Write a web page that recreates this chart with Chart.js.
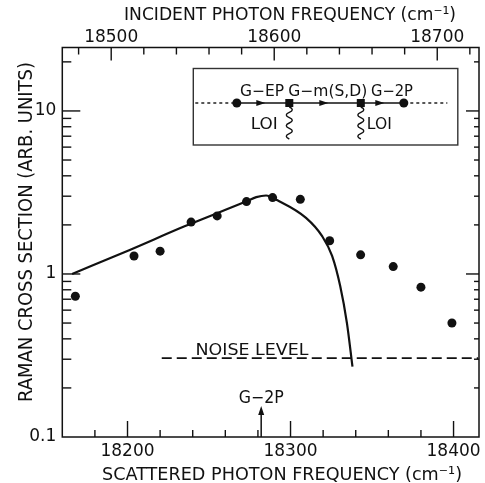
<!DOCTYPE html>
<html lang="en">
<head>
<meta charset="UTF-8">
<title>Raman Cross Section</title>
<script src="https://cdn.jsdelivr.net/npm/chart.js"></script>
<style>
  body { margin: 0; background: #fff; }
  .chart-box { position: relative; width: 485px; height: 483px; }
</style>
</head>
<body>
<div class="chart-box"><canvas id="ramanChart"></canvas></div>
<script>
// measured points: scattered frequency (cm-1) / cross section (arb. units)
const scatteredFreq = [18168, 18204, 18220, 18239, 18255, 18273, 18289, 18306, 18324, 18343, 18363, 18380, 18399];
const crossSection = [0.73, 1.29, 1.38, 2.08, 2.27, 2.78, 2.94, 2.87, 1.60, 1.31, 1.11, 0.83, 0.50];

// calculated curve
const theoryFreq = [18166, 18201, 18235, 18273, 18279, 18285, 18292, 18309.5, 18319.5, 18325.5, 18330.5, 18334.6, 18338];
const theoryValue = [1.00, 1.40, 1.96, 2.79, 2.96, 3.03, 2.83, 2.21, 1.70, 1.29, 0.84, 0.50, 0.27];

// noise floor
const noiseFreq = [18221, 18415];
const noiseValue = [0.305, 0.305];

const g2pFreq = 18282;
const loShift = 310;              // incident = scattered + LO
const xRange = [18160, 18415];
const yRange = [0.1, 24.5];

const yTicks = [0.1, 0.2, 0.3, 0.4, 0.5, 0.6, 0.7, 0.8, 0.9, 1, 2, 3, 4, 5, 6, 7, 8, 9, 10, 20];
const yLabels = [0.1, 1, 10];
const xTicks = [18180, 18200, 18220, 18240, 18260, 18280, 18300, 18320, 18340, 18360, 18380, 18400];
const xLabels = [18200, 18300, 18400];
const topTicks = [18480, 18500, 18520, 18540, 18560, 18580, 18600, 18620, 18640, 18660, 18680, 18700, 18720];
const topLabels = [18500, 18600, 18700];

const INK = '#111';
const FONT = '"DejaVu Sans", sans-serif';

function toPoints(xs, ys) {
    return xs.map((x, i) => ({ x: x, y: ys[i] }));
}

// text stretched/squeezed to a given width, centred on (cx, cy)
function fitText(ctx, text, cx, cy, width, size, angle) {
    ctx.save();
    ctx.translate(cx, cy);
    if (angle) ctx.rotate(angle);
    ctx.font = size + 'px ' + FONT;
    const w = ctx.measureText(text).width;
    ctx.scale(width / w, 1);
    ctx.textAlign = 'center';
    ctx.textBaseline = 'alphabetic';
    ctx.fillStyle = INK;
    ctx.fillText(text, 0, size * 0.365);
    ctx.restore();
}

function line(ctx, x1, y1, x2, y2) {
    ctx.beginPath();
    ctx.moveTo(x1, y1);
    ctx.lineTo(x2, y2);
    ctx.stroke();
}

function spring(ctx, x, y0, y1) {
    const n = 6, step = (y1 - y0) / n;
    ctx.beginPath();
    ctx.moveTo(x, y0);
    for (let i = 0; i < n; i++) {
        const ya = y0 + i * step;
        ctx.quadraticCurveTo(x + (i % 2 ? -6 : 6), ya + step / 2, x, ya + step);
    }
    ctx.stroke();
}

function arrowHead(ctx, x, y) {
    ctx.beginPath();
    ctx.moveTo(x + 5, y);
    ctx.lineTo(x - 4, y - 3);
    ctx.lineTo(x - 4, y + 3);
    ctx.closePath();
    ctx.fill();
}

const frameAndNotes = {
    id: 'frameAndNotes',
    afterDraw(chart) {
        const ctx = chart.ctx;
        const { left, right, top, bottom } = chart.chartArea;
        const xs = chart.scales.x, ys = chart.scales.y, xt = chart.scales.x2;
        ctx.save();
        ctx.strokeStyle = INK;
        ctx.fillStyle = INK;

        // frame
        ctx.lineWidth = 1.5;
        ctx.strokeRect(left, top, right - left + 1, bottom - top);

        // inward tick marks
        ctx.lineWidth = 1.4;
        yTicks.forEach(v => {
            if (v === yRange[0]) return;
            const y = ys.getPixelForValue(v);
            const major = yLabels.includes(v);
            line(ctx, left, y, left + (major ? 18 : 9), y);
            line(ctx, right + 1, y, right + 1 - (major ? 13 : 5), y);
        });
        xTicks.forEach(v => {
            const x = xs.getPixelForValue(v);
            line(ctx, x, bottom, x, bottom - (xLabels.includes(v) ? 16 : 7));
        });
        topTicks.forEach(v => {
            const x = xt.getPixelForValue(v);
            line(ctx, x, top, x, top + (topLabels.includes(v) ? 13 : 7));
        });

        // axis titles
        fitText(ctx, 'INCIDENT PHOTON FREQUENCY (cm\u207B\u00B9)', 290, 13.5, 332, 18);
        fitText(ctx, 'SCATTERED PHOTON FREQUENCY (cm\u207B\u00B9)', 282, 473.7, 360, 18);
        fitText(ctx, 'RAMAN CROSS SECTION (ARB. UNITS)', 25.5, 232, 340, 19, -Math.PI / 2);

        // noise label
        fitText(ctx, 'NOISE LEVEL', 252, 349, 113, 16.5);

        // G-2P marker
        const gx = xs.getPixelForValue(g2pFreq);
        ctx.lineWidth = 1.5;
        line(ctx, gx, bottom, gx, bottom - 24);
        ctx.beginPath();
        ctx.moveTo(gx, bottom - 31);
        ctx.lineTo(gx - 3, bottom - 22);
        ctx.lineTo(gx + 3, bottom - 22);
        ctx.closePath();
        ctx.fill();
        fitText(ctx, 'G\u22122P', gx, 397, 45, 17);

        // inset diagram
        const bx = left + 131, by = top + 21;
        ctx.lineWidth = 1.4;
        ctx.strokeStyle = '#333';
        ctx.strokeRect(bx, by, 264.5, 76.5);
        ctx.strokeStyle = INK;
        const ly = by + 34.5;
        ctx.lineWidth = 1.4;
        ctx.setLineDash([3, 3]);
        line(ctx, bx + 2, ly, bx + 43, ly);
        line(ctx, bx + 211, ly, bx + 254, ly);
        ctx.setLineDash([]);
        line(ctx, bx + 43, ly, bx + 211, ly);
        [bx + 43.5, bx + 210.5].forEach(cx => {
            ctx.beginPath();
            ctx.arc(cx, ly, 4.5, 0, Math.PI * 2);
            ctx.fill();
        });
        [bx + 96, bx + 167.5].forEach(cx => {
            ctx.fillRect(cx - 4, ly - 4, 8, 8);
            spring(ctx, cx, ly + 4, ly + 36);
        });
        [bx + 67, bx + 130, bx + 186].forEach(ax => arrowHead(ctx, ax, ly));
        fitText(ctx, 'G\u2212EP', bx + 68.7, by + 21.7, 44, 15);
        fitText(ctx, 'G\u2212m(S,D)', bx + 134.5, by + 21.7, 79, 15);
        fitText(ctx, 'G\u22122P', bx + 198.7, by + 21.7, 42, 15);
        fitText(ctx, 'LOI', bx + 71, by + 54.7, 27, 15);
        fitText(ctx, 'LOI', bx + 186, by + 54.7, 25, 15);

        ctx.restore();
    }
};

const tickFont = { family: FONT, size: 17 };

new Chart(document.getElementById('ramanChart'), {
    type: 'line',
    data: {
        datasets: [
            {
                type: 'scatter',
                data: toPoints(scatteredFreq, crossSection),
                backgroundColor: INK,
                borderWidth: 0,
                pointRadius: 4.5
            },
            {
                data: toPoints(theoryFreq, theoryValue),
                borderColor: INK,
                borderWidth: 2.2,
                pointRadius: 0,
                cubicInterpolationMode: 'monotone',
                fill: false
            },
            {
                data: toPoints(noiseFreq, noiseValue),
                borderColor: INK,
                borderWidth: 1.8,
                borderDash: [10, 5],
                pointRadius: 0,
                fill: false
            }
        ]
    },
    options: {
        responsive: true,
        maintainAspectRatio: false,
        animation: false,
        layout: { padding: { left: 0, right: 0, top: 0, bottom: 0 } },
        plugins: { legend: { display: false }, tooltip: { enabled: false } },
        scales: {
            x: {
                type: 'linear',
                position: 'bottom',
                min: xRange[0],
                max: xRange[1],
                grid: { display: false, drawTicks: false },
                border: { display: false },
                afterBuildTicks: s => { s.ticks = xTicks.map(v => ({ value: v })); },
                afterFit: s => { s.height = 46; },
                ticks: {
                    autoSkip: false,
                    maxRotation: 0,
                    padding: 4,
                    color: INK,
                    font: tickFont,
                    callback: v => xLabels.includes(v) ? String(v) : ''
                }
            },
            x2: {
                type: 'linear',
                position: 'top',
                min: xRange[0] + loShift,
                max: xRange[1] + loShift,
                grid: { display: false, drawTicks: false },
                border: { display: false },
                afterBuildTicks: s => { s.ticks = topTicks.map(v => ({ value: v })); },
                afterFit: s => { s.height = 47.5; },
                ticks: {
                    autoSkip: false,
                    maxRotation: 0,
                    padding: 0,
                    color: INK,
                    font: tickFont,
                    callback: v => topLabels.includes(v) ? String(v) : ''
                }
            },
            y: {
                type: 'logarithmic',
                min: yRange[0],
                max: yRange[1],
                grid: { display: false, drawTicks: false },
                border: { display: false },
                afterBuildTicks: s => { s.ticks = yTicks.map(v => ({ value: v })); },
                afterFit: s => { s.width = 62.3; },
                ticks: {
                    autoSkip: false,
                    padding: 6,
                    color: INK,
                    font: tickFont,
                    callback: v => yLabels.includes(v) ? String(v) : ''
                }
            }
        }
    },
    plugins: [frameAndNotes]
});
</script>
</body>
</html>
